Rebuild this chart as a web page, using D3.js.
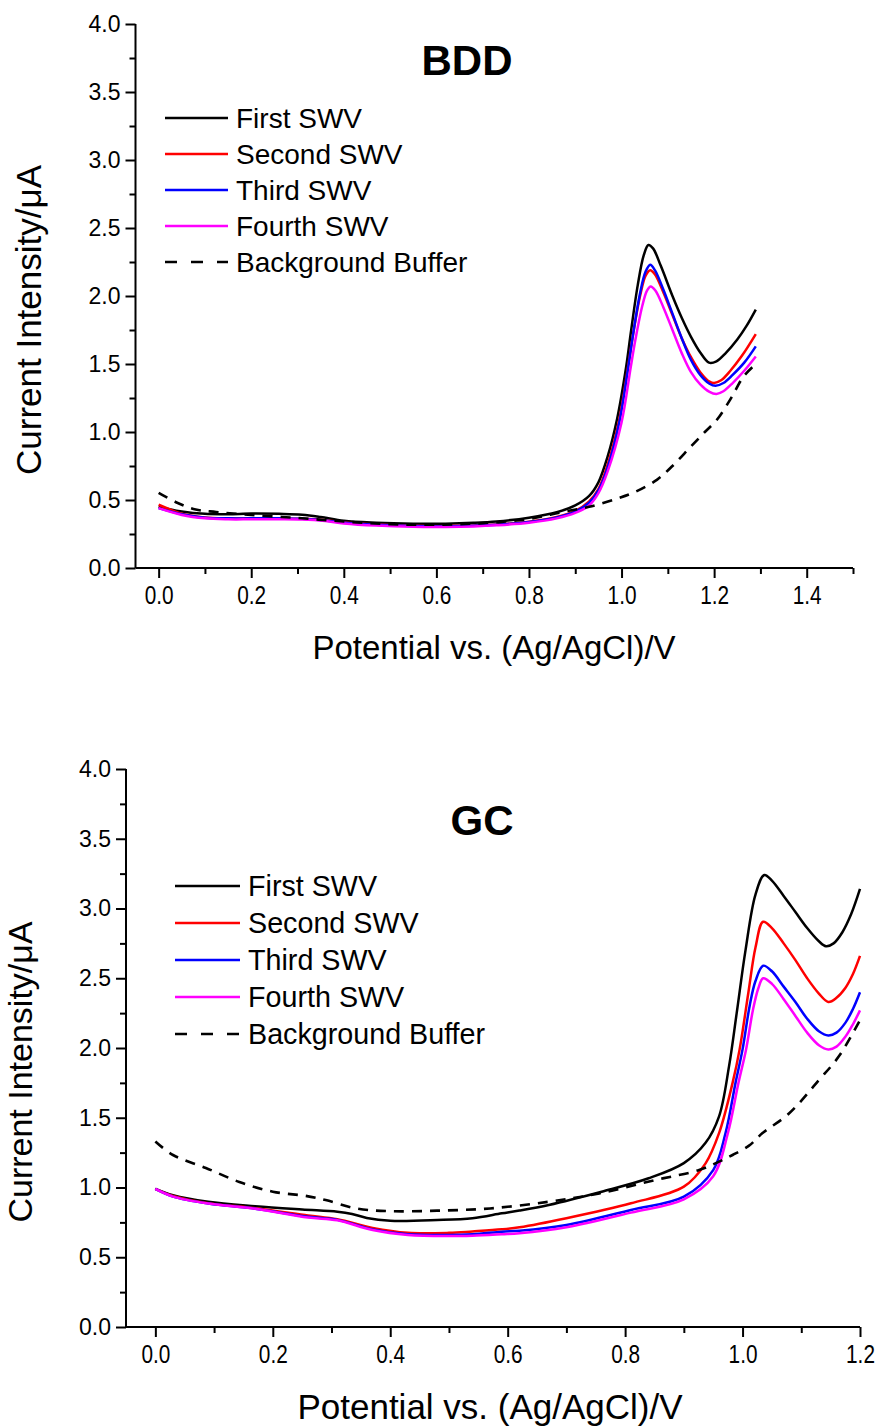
<!DOCTYPE html>
<html>
<head>
<meta charset="utf-8">
<script src="https://cdn.jsdelivr.net/npm/d3@7"></script>
<style>
  html, body { margin: 0; padding: 0; background: #fff; }
  svg { display: block; }
  text { font-family: Arial, "Liberation Sans", sans-serif; fill: #000; }
</style>
</head>
<body>
<svg id="chart" width="881" height="1427"></svg>
<script>
// ---------------- DATA ----------------
const seriesNames = ["First SWV", "Second SWV", "Third SWV", "Fourth SWV", "Background Buffer"];
const yTickValues = [0, 0.5, 1.0, 1.5, 2.0, 2.5, 3.0, 3.5, 4.0];
const bddXTickValues = [0, 0.2, 0.4, 0.6, 0.8, 1.0, 1.2, 1.4];
const gcXTickValues = [0, 0.2, 0.4, 0.6, 0.8, 1.0, 1.2];

// BDD electrode  [potential V, current uA]
const bddFirst = [[0.00,0.45],[0.05,0.415],[0.10,0.398],[0.15,0.396],[0.20,0.40],[0.26,0.398],[0.31,0.392],[0.35,0.375],[0.40,0.347],[0.47,0.333],[0.55,0.326],[0.62,0.326],[0.68,0.332],[0.73,0.342],[0.80,0.37],[0.86,0.41],[0.90,0.46],[0.93,0.53],[0.95,0.63],[0.97,0.82],[0.99,1.09],[1.01,1.48],[1.02,1.73],[1.035,2.08],[1.048,2.30],[1.058,2.375],[1.068,2.35],[1.085,2.22],[1.11,2.00],[1.13,1.84],[1.15,1.70],[1.17,1.585],[1.189,1.51],[1.205,1.52],[1.225,1.58],[1.25,1.68],[1.27,1.78],[1.29,1.90]];
const bddSecond = [[0.00,0.465],[0.05,0.40],[0.10,0.372],[0.15,0.365],[0.20,0.365],[0.26,0.365],[0.31,0.362],[0.36,0.352],[0.40,0.335],[0.47,0.32],[0.55,0.31],[0.62,0.308],[0.68,0.312],[0.73,0.32],[0.80,0.34],[0.86,0.375],[0.90,0.42],[0.93,0.49],[0.95,0.58],[0.97,0.76],[0.995,1.09],[1.015,1.50],[1.025,1.72],[1.04,2.00],[1.052,2.15],[1.062,2.19],[1.072,2.16],[1.09,2.03],[1.11,1.86],[1.13,1.69],[1.15,1.55],[1.17,1.44],[1.19,1.37],[1.20,1.36],[1.215,1.38],[1.235,1.45],[1.26,1.56],[1.29,1.72]];
const bddThird = [[0.00,0.44],[0.05,0.395],[0.10,0.37],[0.15,0.365],[0.20,0.365],[0.26,0.365],[0.31,0.362],[0.36,0.35],[0.40,0.333],[0.47,0.318],[0.55,0.308],[0.62,0.306],[0.68,0.31],[0.73,0.318],[0.80,0.338],[0.86,0.372],[0.90,0.415],[0.93,0.48],[0.95,0.57],[0.97,0.74],[0.995,1.07],[1.015,1.49],[1.025,1.72],[1.04,2.02],[1.052,2.18],[1.062,2.23],[1.072,2.19],[1.09,2.05],[1.11,1.87],[1.13,1.69],[1.15,1.53],[1.17,1.42],[1.19,1.355],[1.203,1.34],[1.22,1.36],[1.24,1.42],[1.265,1.51],[1.29,1.63]];
const bddFourth = [[0.00,0.44],[0.05,0.39],[0.10,0.365],[0.15,0.358],[0.20,0.358],[0.26,0.358],[0.31,0.356],[0.36,0.345],[0.40,0.328],[0.47,0.312],[0.55,0.303],[0.62,0.302],[0.68,0.306],[0.73,0.314],[0.80,0.333],[0.86,0.365],[0.90,0.405],[0.93,0.46],[0.95,0.55],[0.97,0.71],[1.0,1.07],[1.02,1.48],[1.03,1.68],[1.045,1.93],[1.055,2.04],[1.063,2.07],[1.073,2.04],[1.09,1.92],[1.11,1.75],[1.13,1.58],[1.15,1.44],[1.17,1.35],[1.19,1.295],[1.205,1.28],[1.22,1.30],[1.24,1.36],[1.265,1.45],[1.29,1.555]];
const bddBackground = [[0.00,0.553],[0.04,0.48],[0.08,0.43],[0.124,0.412],[0.2,0.39],[0.3,0.368],[0.4,0.342],[0.5,0.322],[0.6,0.318],[0.7,0.33],[0.8,0.36],[0.87,0.41],[0.93,0.45],[0.99,0.51],[1.03,0.56],[1.077,0.65],[1.11,0.75],[1.149,0.89],[1.18,1.0],[1.206,1.09],[1.235,1.24],[1.264,1.41],[1.29,1.50]];

// GC electrode
const gcFirst = [[0.00,0.99],[0.03,0.945],[0.09,0.898],[0.17,0.866],[0.25,0.842],[0.31,0.826],[0.335,0.81],[0.36,0.782],[0.40,0.762],[0.48,0.767],[0.54,0.78],[0.59,0.815],[0.62,0.835],[0.67,0.875],[0.76,0.97],[0.84,1.066],[0.90,1.175],[0.937,1.32],[0.96,1.51],[0.977,1.87],[0.99,2.25],[1.005,2.70],[1.022,3.10],[1.037,3.24],[1.05,3.20],[1.07,3.09],[1.09,2.975],[1.11,2.86],[1.13,2.765],[1.142,2.73],[1.155,2.75],[1.17,2.83],[1.185,2.96],[1.20,3.14]];
const gcSecond = [[0.00,0.99],[0.03,0.94],[0.09,0.888],[0.17,0.852],[0.26,0.80],[0.31,0.772],[0.37,0.71],[0.43,0.675],[0.50,0.675],[0.54,0.685],[0.59,0.70],[0.62,0.715],[0.70,0.78],[0.81,0.887],[0.90,1.006],[0.937,1.173],[0.96,1.39],[0.983,1.75],[0.995,1.99],[1.01,2.40],[1.022,2.72],[1.035,2.905],[1.05,2.86],[1.07,2.75],[1.09,2.63],[1.11,2.50],[1.13,2.39],[1.146,2.33],[1.16,2.36],[1.175,2.43],[1.188,2.53],[1.20,2.66]];
const gcThird = [[0.00,0.99],[0.03,0.935],[0.09,0.885],[0.17,0.848],[0.26,0.79],[0.31,0.768],[0.37,0.70],[0.43,0.665],[0.50,0.66],[0.54,0.665],[0.59,0.683],[0.62,0.69],[0.70,0.731],[0.81,0.839],[0.90,0.934],[0.95,1.125],[0.971,1.39],[0.988,1.75],[1.0,1.99],[1.012,2.30],[1.022,2.48],[1.035,2.59],[1.05,2.55],[1.07,2.44],[1.09,2.33],[1.11,2.21],[1.13,2.12],[1.146,2.09],[1.16,2.11],[1.175,2.18],[1.188,2.28],[1.20,2.40]];
const gcFourth = [[0.00,0.99],[0.03,0.935],[0.09,0.885],[0.17,0.848],[0.26,0.785],[0.31,0.765],[0.37,0.695],[0.43,0.66],[0.50,0.652],[0.54,0.655],[0.59,0.665],[0.62,0.672],[0.70,0.715],[0.81,0.82],[0.90,0.915],[0.95,1.08],[0.975,1.39],[0.993,1.75],[1.006,1.99],[1.018,2.28],[1.027,2.43],[1.035,2.50],[1.05,2.46],[1.07,2.35],[1.09,2.23],[1.11,2.11],[1.13,2.02],[1.146,1.99],[1.16,2.01],[1.175,2.08],[1.188,2.17],[1.20,2.27]];
const gcBackground = [[0.00,1.33],[0.03,1.233],[0.086,1.14],[0.143,1.04],[0.20,0.97],[0.256,0.94],[0.29,0.91],[0.342,0.85],[0.40,0.83],[0.48,0.834],[0.57,0.85],[0.67,0.898],[0.756,0.958],[0.852,1.054],[0.926,1.125],[0.96,1.185],[0.983,1.233],[1.011,1.30],[1.034,1.39],[1.079,1.53],[1.13,1.77],[1.164,1.94],[1.20,2.20]];

// ---------------- STYLE / LAYOUT ----------------
const colors = ["#000000", "#ff0000", "#0000ff", "#ff00ff", "#000000"];
const dashes = [null, null, null, null, "10,8"];

const panels = [
  { title: "BDD", series: [bddFirst, bddSecond, bddThird, bddFourth, bddBackground],
    xDomain: [-0.05, 1.5], xRange: [135.5, 853], yRange: [568, 24],
    xTicks: bddXTickValues, xMinorEnd: 1.5,
    titleX: 467, titleY: 75, legendX1: 165, legendX2: 228, legendTextX: 236, legendY0: 118, legendDy: 36, legendFont: 28,
    yLabelX: 41, yLabelY: 320, yLabelFont: 35, xLabelX: 494, xLabelY: 659, xLabelFont: 33 },
  { title: "GC", series: [gcFirst, gcSecond, gcThird, gcFourth, gcBackground],
    xDomain: [-0.05, 1.2], xRange: [126, 860], yRange: [1327, 769],
    xTicks: gcXTickValues, xMinorEnd: 1.15,
    titleX: 482, titleY: 835, legendX1: 175, legendX2: 240, legendTextX: 248, legendY0: 886, legendDy: 37, legendFont: 28.7,
    yLabelX: 32, yLabelY: 1072, yLabelFont: 34, xLabelX: 490, xLabelY: 1419, xLabelFont: 35 }
];

const svg = d3.select("#chart");
const yMinor = d3.range(0.25, 4, 0.5);

panels.forEach(p => {
  const g = svg.append("g");
  const x = d3.scaleLinear().domain(p.xDomain).range(p.xRange);
  const y = d3.scaleLinear().domain([0, 4]).range(p.yRange);
  const xMinor = d3.range(0.1, p.xMinorEnd + 0.001, 0.2);

  // minor ticks
  g.append("g").attr("transform", `translate(0,${p.yRange[0]})`)
    .call(d3.axisBottom(x).tickValues(xMinor).tickSize(6).tickFormat(""))
    .call(a => a.select(".domain").remove())
    .call(a => a.selectAll("line").attr("stroke-width", 2));
  g.append("g").attr("transform", `translate(${p.xRange[0]},0)`)
    .call(d3.axisLeft(y).tickValues(yMinor).tickSize(6).tickFormat(""))
    .call(a => a.select(".domain").remove())
    .call(a => a.selectAll("line").attr("stroke-width", 2));

  // major x axis
  const xa = g.append("g").attr("transform", `translate(0,${p.yRange[0]})`)
    .call(d3.axisBottom(x).tickValues(p.xTicks).tickSize(10).tickSizeOuter(0).tickPadding(8).tickFormat(d3.format(".1f")));
  xa.select(".domain").attr("stroke-width", 2).attr("d", `M${p.xRange[0]},0H${p.xRange[1]}`);
  xa.selectAll("line").attr("stroke-width", 2);
  xa.selectAll("text").attr("font-size", 26).attr("font-family", "Arial, 'Liberation Sans', sans-serif")
    .attr("transform", "scale(0.8,1)");

  // major y axis
  const ya = g.append("g").attr("transform", `translate(${p.xRange[0]},0)`)
    .call(d3.axisLeft(y).tickValues(yTickValues).tickSize(10).tickSizeOuter(0).tickPadding(5).tickFormat(d3.format(".1f")));
  ya.select(".domain").attr("stroke-width", 2).attr("d", `M0,${p.yRange[0]}V${p.yRange[1]}`);
  ya.selectAll("line").attr("stroke-width", 2);
  ya.selectAll("text").attr("font-size", 23).attr("font-family", "Arial, 'Liberation Sans', sans-serif");

  // curves
  const line = d3.line().x(d => x(d[0])).y(d => y(d[1])).curve(d3.curveCatmullRom.alpha(0.5));
  p.series.forEach((s, i) => {
    g.append("path").datum(s)
      .attr("d", line)
      .attr("fill", "none")
      .attr("stroke", colors[i])
      .attr("stroke-width", i === 4 ? 2.6 : 2.5)
      .attr("stroke-dasharray", dashes[i])
      .attr("stroke-linejoin", "round");
  });

  // title
  g.append("text").attr("x", p.titleX).attr("y", p.titleY)
    .attr("text-anchor", "middle").attr("font-size", 42).attr("font-weight", "bold").text(p.title);

  // legend
  seriesNames.forEach((name, i) => {
    const yy = p.legendY0 + i * p.legendDy;
    g.append("line").attr("x1", p.legendX1).attr("x2", p.legendX2).attr("y1", yy).attr("y2", yy)
      .attr("stroke", colors[i]).attr("stroke-width", 2.4)
      .attr("stroke-dasharray", i === 4 ? "12,14" : null);
    g.append("text").attr("x", p.legendTextX).attr("y", yy).attr("dy", "0.35em")
      .attr("font-size", p.legendFont).text(name);
  });

  // axis labels
  g.append("text").attr("transform", `translate(${p.yLabelX},${p.yLabelY}) rotate(-90)`)
    .attr("text-anchor", "middle").attr("font-size", p.yLabelFont).text("Current Intensity/\u03bcA");
  g.append("text").attr("x", p.xLabelX).attr("y", p.xLabelY)
    .attr("text-anchor", "middle").attr("font-size", p.xLabelFont).text("Potential vs. (Ag/AgCl)/V");
});
</script>
</body>
</html>
